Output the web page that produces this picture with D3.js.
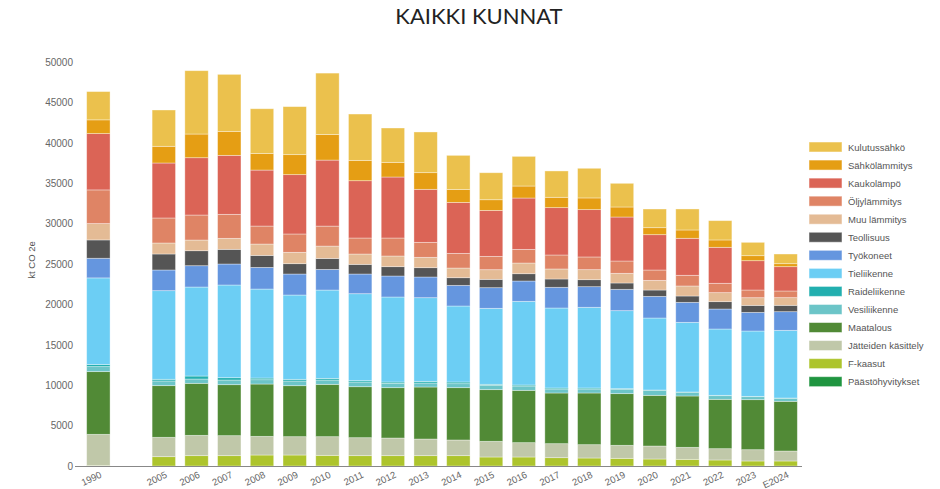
<!DOCTYPE html>
<html>
<head>
<meta charset="utf-8">
<script src="https://cdn.jsdelivr.net/npm/d3@7/dist/d3.min.js"></script>
<style>
  html, body { margin: 0; padding: 0; background: #fff; }
  svg { display: block; font-family: "Liberation Sans", Arial, sans-serif; }
</style>
</head>
<body>
<svg id="chart" width="940" height="489"></svg>
<script>
// ---- DATA ----
const title = "KAIKKI KUNNAT";
const yLabel = "kt CO 2e";
const categories = ["1990","2005","2006","2007","2008","2009","2010","2011","2012","2013","2014","2015","2016","2017","2018","2019","2020","2021","2022","2023","E2024"];
const yTicks = [0,5000,10000,15000,20000,25000,30000,35000,40000,45000,50000];

// series, bottom to top
const seriesNames = ["Päästöhyvitykset","F-kaasut","Jätteiden käsittely","Maatalous","Vesiliikenne","Raideliikenne","Tieliikenne","Työkoneet","Teollisuus","Muu lämmitys","Öljylämmitys","Kaukolämpö","Sähkölämmitys","Kulutussähkö"];
const seriesColors = ["#1f9540","#adc42c","#c0c8a9","#518a36","#6cc5c8","#22afaf","#6ccef4","#6596df","#555555","#e4bb95","#df8465","#db6456","#e59e14","#ebc14d"];

const paastohyvitykset = [0,0,0,0,0,0,0,0,0,0,0,0,0,0,0,0,0,0,0,0,0];
const fKaasut   = [50,1155,1280,1280,1360,1360,1320,1280,1280,1280,1280,1115,1115,1030,990,950,865,825,745,620,620];
const jatteet   = [3870,2395,2515,2475,2310,2270,2310,2225,2185,2060,1940,1940,1775,1735,1650,1610,1610,1485,1400,1400,1235];
const maatalous = [7760,6395,6435,6310,6475,6310,6475,6310,6230,6435,6475,6395,6475,6270,6395,6395,6270,6355,6105,6190,6150];
const vesiliikenne  = [620,580,535,575,535,580,535,580,535,495,495,535,535,495,495,535,620,455,455,370,370];
const raideliikenne = [250,205,370,290,205,205,205,165,165,205,205,125,125,125,125,80,40,40,40,40,40];
const tieliikenne   = [10730,10970,11015,11470,11015,10435,10930,10765,10520,10355,9405,9405,10355,9900,9985,9655,8910,8620,8210,8085,8375];
const tyokoneet     = [2430,2560,2640,2600,2680,2600,2555,2435,2600,2560,2555,2555,2515,2560,2555,2640,2680,2475,2475,2310,2310];
const teollisuus    = [2270,1980,1855,1815,1485,1280,1360,1195,1155,1155,950,1030,905,1030,865,785,785,785,910,865,785];
const muuLammitys   = [2020,1360,1320,1360,1405,1405,1525,1280,1320,1280,1195,1195,1320,1240,1240,1195,1195,1240,1115,950,950];
const oljylammitys  = [4170,3095,3095,2970,2225,2270,2475,1980,2225,1855,1815,1650,1690,1730,1570,1525,1280,1320,1155,950,825];
const kaukolampo    = [6970,6805,7095,7300,6930,7345,8170,7095,7550,6560,6310,5690,6355,5860,5860,5445,4375,4580,4455,3630,3010];
const sahkolammitys = [1700,2065,2930,2970,2065,2475,3175,2515,1815,2065,1610,1320,1485,1280,1445,1240,865,1030,910,620,370];
const kulutussahko  = [3500,4495,7840,7055,5525,5940,7590,5735,4250,5035,4210,3340,3670,3260,3670,2930,2310,2600,2390,1650,1195];

const seriesValues = [paastohyvitykset,fKaasut,jatteet,maatalous,vesiliikenne,raideliikenne,tieliikenne,tyokoneet,teollisuus,muuLammitys,oljylammitys,kaukolampo,sahkolammitys,kulutussahko];

// ---- BUILD ----
const rows = categories.map((c, i) => {
  const r = { cat: c };
  seriesNames.forEach((s, j) => r[s] = seriesValues[j][i]);
  return r;
});
const stack = d3.stack().keys(seriesNames)(rows);

const svg = d3.select("#chart");

// domain with an empty slot between 1990 and 2005
const domain = [categories[0], "__gap__", ...categories.slice(1)];
const x = d3.scaleBand().domain(domain).range([82, 802]).paddingInner(0.285).paddingOuter(0.1425);
const y = d3.scaleLinear().domain([0, 50000]).range([466, 62]);
const color = d3.scaleOrdinal().domain(seriesNames).range(seriesColors);

// title
svg.append("text")
  .attr("x", 479).attr("y", 24)
  .attr("text-anchor", "middle")
  .style("font-family", "Lato, 'Open Sans', sans-serif")
  .style("font-size", "22px")
  .attr("fill", "#222")
  .text(title);

// y axis
const yAxis = d3.axisLeft(y).tickValues(yTicks).tickSize(0).tickPadding(0).tickFormat(d3.format("d"));
const gy = svg.append("g").attr("transform", "translate(73,0)").call(yAxis);
gy.select(".domain").remove();
gy.selectAll("text").attr("fill", "#666").style("font-size", "10px").style("font-family", "'Liberation Sans', Arial, sans-serif");

svg.append("text")
  .attr("transform", "translate(35,260) rotate(-90)")
  .attr("text-anchor", "middle")
  .attr("fill", "#555")
  .style("font-size", "9.5px")
  .text(yLabel);

// bars
svg.append("g").selectAll("g")
  .data(stack).join("g")
  .attr("fill", d => color(d.key))
  .selectAll("rect")
  .data(d => d).join("rect")
  .attr("x", d => x(d.data.cat))
  .attr("width", x.bandwidth())
  .attr("y", d => y(d[1]))
  .attr("height", d => Math.max(0, y(d[0]) - y(d[1])))
  .attr("stroke", "#ffffff")
  .attr("stroke-opacity", 0.45)
  .attr("stroke-width", 0.8);

// x axis
const xAxis = d3.axisBottom(x).tickSize(0).tickFormat(d => d === "__gap__" ? "" : d);
const gx = svg.append("g").attr("transform", "translate(0,466)").call(xAxis);
gx.select(".domain").attr("d", "M75,0.5H802").attr("stroke", "#888").attr("stroke-width", 1.2);
gx.selectAll(".tick text")
  .attr("fill", "#666")
  .style("font-size", "9.5px")
  .attr("text-anchor", "end")
  .attr("dy", null)
  .attr("y", 0)
  .attr("transform", "translate(4,11) rotate(-25)");

// legend
const lg = svg.append("g").attr("transform", "translate(809,142)");
const legendOrder = seriesNames.slice().reverse();
const li = lg.selectAll("g").data(legendOrder).join("g")
  .attr("transform", (d, i) => `translate(0,${i * 18.05})`);
li.append("rect")
  .attr("width", 33).attr("height", 10)
  .attr("fill", d => color(d))
  .attr("stroke", "#fff").attr("stroke-opacity", 0.5);
li.append("text")
  .attr("x", 39).attr("y", 8.5)
  .attr("fill", "#555")
  .style("font-size", "9.5px")
  .text(d => d);
</script>
</body>
</html>
